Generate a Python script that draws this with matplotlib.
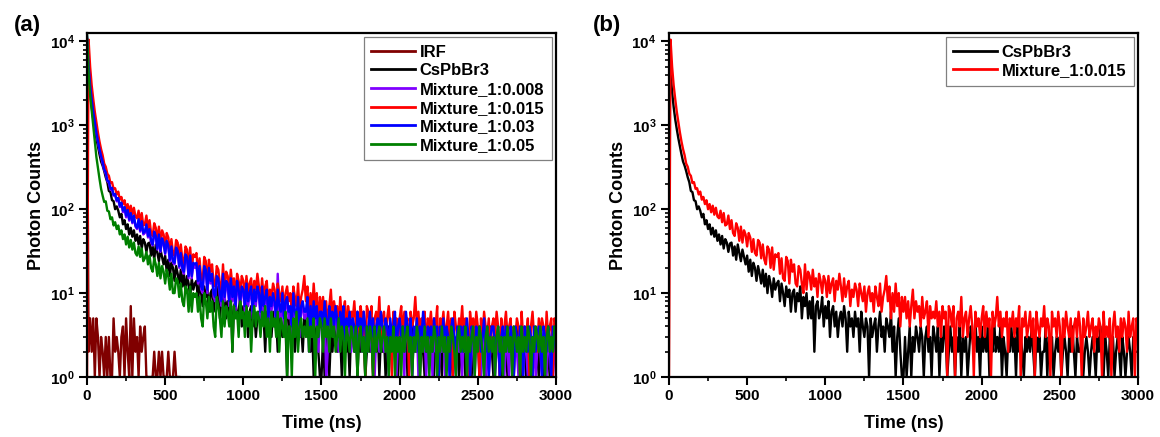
import numpy as np
import matplotlib.pyplot as plt
from matplotlib.ticker import MultipleLocator, LogLocator, NullFormatter, FuncFormatter

# TCSPC channel grid (10 ns per channel), counts
time_ns = np.arange(0, 3001, 10)

irf = [
    10000, 2, 5, 2, 5, 1, 5, 3, 1, 3,
    2, 1, 3, 1, 3, 1, 1, 5, 2, 3,
    2, 1, 3, 4, 1, 5, 2, 1, 7, 1,
    5, 2, 3, 1, 4, 2, 3, 4, 1, 1,
    1, 1, 1, 2, 1, 1, 2, 1, 2, 1,
    1, 1, 2, 1, 1, 1, 2, 1, 1, 1,
]

cspbbr3 = [
    9500, 4300, 2500, 1650, 1180, 900, 700, 560, 450, 370,
    330, 285, 240, 210, 165, 160, 128, 125, 100, 108,
    96, 80, 88, 66, 74, 58, 66, 50, 60, 47,
    56, 42, 50, 38, 48, 34, 44, 40, 31, 39,
    40, 28, 36, 25, 38, 30, 24, 33, 27, 22,
    28, 18, 25, 16, 23, 20, 14, 21, 17, 13,
    19, 12, 17, 10, 16, 13, 9, 15, 11, 13,
    14, 8, 13, 10, 7, 12, 9, 11, 6, 10,
    11, 6, 10, 8, 12, 5, 9, 7, 10, 5,
    8, 5, 9, 2, 7, 8, 5, 6, 9, 4,
    7, 5, 8, 3, 6, 7, 4, 6, 3, 5,
    6, 4, 7, 5, 2, 6, 4, 5, 3, 6,
    4, 5, 2, 6, 4, 3, 5, 4, 1, 5,
    3, 4, 5, 2, 4, 6, 3, 4, 2, 5,
    4, 3, 6, 2, 4, 1, 3, 5, 2, 1,
    1, 3, 1, 2, 4, 1, 3, 2, 4, 3,
    2, 4, 3, 1, 3, 4, 2, 3, 1, 4,
    3, 2, 4, 1, 3, 2, 4, 3, 1, 2,
    4, 2, 3, 1, 3, 2, 4, 1, 3, 2,
    3, 1, 2, 4, 3, 2, 5, 2, 3, 1,
    4, 2, 3, 2, 4, 1, 3, 2, 5, 2,
    3, 2, 4, 1, 3, 2, 1, 3, 2, 4,
    2, 3, 1, 4, 2, 3, 2, 1, 3, 2,
    3, 2, 4, 2, 1, 3, 2, 3, 1, 2,
    2, 4, 1, 3, 2, 3, 1, 2, 3, 2,
    3, 1, 2, 3, 2, 1, 3, 2, 4, 2,
    1, 3, 2, 2, 3, 1, 2, 3, 2, 1,
    2, 3, 2, 1, 3, 2, 4, 2, 1, 3,
    2, 1, 3, 2, 3, 1, 2, 3, 2, 1,
    3, 2, 1, 2, 3, 2, 1, 3, 2, 2,
    2,
]

mix_0008 = [
    11000, 5000, 2900, 2000, 1400, 1040, 790, 630, 505, 420,
    350, 295, 262, 218, 205, 170, 172, 145, 146, 124,
    130, 106, 116, 92, 102, 80, 94, 73, 86, 68,
    80, 62, 58, 73, 54, 69, 50, 52, 63, 46,
    55, 40, 37, 52, 46, 33, 48, 31, 43, 38,
    29, 40, 35, 24, 34, 23, 22, 33, 30, 20,
    28, 19, 17, 27, 25, 15, 26, 15, 22, 20,
    22, 13, 20, 11, 10, 20, 18, 10, 19, 13,
    16, 9, 8, 15, 14, 9, 7, 16, 8, 13,
    12, 7, 14, 8, 11, 6, 13, 10, 7, 11,
    10, 6, 12, 7, 9, 11, 5, 10, 7, 11,
    9, 5, 11, 6, 8, 10, 4, 8, 6, 9,
    7, 4, 17, 6, 5, 9, 4, 7, 8, 5,
    6, 3, 9, 5, 4, 8, 3, 6, 7, 5,
    5, 8, 2, 6, 3, 7, 4, 6, 2, 5,
    5, 3, 7, 1, 2, 6, 4, 5, 3, 6,
    4, 2, 5, 3, 6, 2, 4, 3, 5, 2,
    4, 3, 2, 5, 3, 4, 2, 5, 3, 2,
    3, 5, 2, 4, 1, 3, 4, 2, 5, 3,
    2, 4, 3, 1, 4, 2, 3, 5, 1, 3,
    4, 2, 3, 1, 5, 3, 2, 4, 1, 3,
    2, 4, 1, 3, 2, 5, 3, 1, 3, 2,
    3, 1, 4, 2, 3, 1, 3, 2, 4, 1,
    3, 2, 1, 3, 4, 2, 1, 3, 2, 3,
    1, 3, 2, 4, 2, 1, 3, 2, 1, 3,
    2, 3, 1, 2, 4, 1, 3, 1, 2, 3,
    3, 1, 2, 3, 1, 2, 3, 1, 3, 2,
    1, 3, 2, 1, 3, 2, 1, 3, 2, 1,
    3, 2, 1, 3, 2, 1, 3, 1, 2, 3,
    2, 1, 3, 2, 1, 3, 2, 1, 3, 2,
    1,
]

mix_0015 = [
    1, 10500, 5000, 3000, 2050, 1450, 1080, 820, 640, 520,
    440, 350, 320, 265, 250, 205, 210, 175, 178, 150,
    162, 130, 140, 115, 128, 100, 115, 92, 110, 86,
    104, 82, 78, 96, 70, 90, 64, 66, 84, 58,
    74, 52, 48, 68, 60, 42, 62, 40, 56, 50,
    36, 52, 46, 31, 44, 30, 28, 43, 40, 26,
    38, 25, 22, 36, 33, 20, 35, 19, 29, 27,
    30, 17, 26, 15, 14, 27, 24, 13, 25, 18,
    22, 13, 12, 21, 19, 13, 10, 22, 11, 18,
    16, 11, 19, 12, 15, 9, 17, 14, 10, 16,
    14, 9, 16, 10, 13, 15, 8, 14, 11, 17,
    12, 8, 15, 9, 12, 14, 7, 11, 9, 13,
    11, 7, 13, 10, 8, 12, 6, 10, 12, 8,
    10, 6, 12, 9, 7, 13, 6, 9, 11, 16,
    8, 12, 5, 10, 6, 13, 7, 10, 4, 9,
    6, 9, 5, 8, 4, 7, 11, 5, 8, 6,
    7, 4, 9, 5, 6, 8, 3, 7, 5, 6,
    5, 8, 4, 6, 3, 7, 5, 6, 1, 7,
    6, 4, 7, 1, 5, 6, 4, 9, 3, 5,
    6, 3, 5, 7, 4, 1, 6, 4, 5, 3,
    5, 7, 3, 6, 4, 5, 1, 6, 4, 5,
    9, 4, 6, 3, 5, 4, 6, 2, 5, 4,
    6, 3, 5, 4, 7, 1, 5, 4, 6, 3,
    4, 6, 3, 5, 1, 6, 4, 3, 5, 4,
    7, 3, 5, 4, 1, 6, 4, 5, 3, 6,
    4, 1, 5, 3, 6, 4, 3, 5, 2, 4,
    5, 3, 6, 4, 1, 5, 3, 4, 6, 3,
    4, 5, 2, 4, 3, 5, 4, 1, 6, 3,
    4, 3, 5, 1, 4, 6, 3, 4, 2, 5,
    3, 5, 4, 2, 6, 3, 4, 5, 1, 5,
    4,
]

mix_003 = [
    11500, 5200, 3000, 2050, 1450, 1080, 820, 650, 520, 430,
    370, 300, 275, 220, 215, 175, 180, 148, 152, 128,
    136, 110, 120, 96, 106, 84, 98, 76, 90, 70,
    84, 64, 60, 76, 56, 72, 52, 54, 66, 48,
    58, 42, 38, 54, 48, 34, 50, 32, 45, 40,
    30, 42, 37, 25, 36, 24, 23, 35, 32, 21,
    30, 20, 18, 29, 27, 16, 28, 16, 23, 22,
    23, 14, 21, 12, 11, 21, 19, 11, 20, 14,
    17, 10, 9, 16, 15, 10, 8, 17, 9, 14,
    13, 8, 15, 9, 12, 7, 14, 11, 8, 12,
    11, 7, 13, 8, 10, 12, 6, 11, 8, 12,
    10, 6, 12, 7, 9, 11, 5, 9, 7, 10,
    8, 5, 11, 7, 6, 10, 5, 8, 9, 6,
    7, 4, 10, 6, 5, 9, 4, 7, 8, 6,
    6, 9, 3, 7, 4, 8, 5, 7, 3, 6,
    6, 4, 8, 5, 3, 7, 5, 6, 4, 7,
    5, 3, 6, 4, 7, 2, 5, 4, 6, 3,
    5, 4, 2, 6, 4, 5, 3, 6, 4, 2,
    4, 6, 3, 5, 2, 4, 5, 3, 6, 4,
    3, 5, 4, 2, 5, 3, 4, 6, 2, 4,
    5, 3, 4, 2, 6, 4, 3, 5, 1, 4,
    3, 5, 2, 4, 3, 6, 4, 2, 4, 3,
    4, 2, 5, 3, 4, 1, 4, 3, 5, 2,
    4, 3, 1, 4, 5, 3, 2, 4, 3, 4,
    2, 4, 3, 5, 3, 1, 4, 3, 2, 4,
    3, 4, 2, 3, 5, 2, 4, 1, 3, 4,
    4, 2, 3, 4, 1, 3, 4, 2, 4, 3,
    2, 4, 3, 1, 4, 3, 2, 4, 3, 1,
    4, 3, 2, 4, 3, 1, 4, 2, 3, 4,
    3, 1, 4, 3, 2, 4, 3, 1, 4, 3,
    2,
]

mix_005 = [
    12500, 4200, 2300, 1500, 950, 620, 420, 310, 230, 175,
    145, 122, 124, 96, 94, 76, 80, 64, 70, 58,
    64, 50, 56, 44, 50, 38, 47, 35, 43, 33,
    40, 30, 28, 36, 27, 34, 24, 26, 31, 22,
    28, 20, 18, 26, 22, 16, 23, 15, 21, 18,
    13, 19, 16, 11, 17, 10, 10, 15, 14, 9,
    13, 8, 7, 12, 11, 6, 12, 6, 10, 9,
    10, 6, 9, 5, 4, 10, 8, 5, 9, 6,
    8, 4, 3, 9, 7, 5, 3, 8, 4, 7,
    6, 4, 8, 2, 7, 5, 6, 3, 8, 5,
    6, 3, 7, 4, 6, 2, 5, 7, 4, 6,
    5, 3, 6, 4, 7, 3, 5, 2, 6, 4,
    5, 3, 6, 2, 5, 4, 3, 6, 1, 4,
    4, 1, 5, 3, 6, 2, 4, 5, 3, 4,
    3, 5, 2, 4, 3, 5, 1, 4, 3, 5,
    4, 2, 5, 3, 4, 2, 5, 3, 4, 2,
    3, 5, 2, 4, 3, 1, 4, 3, 2, 4,
    3, 2, 4, 1, 3, 4, 2, 3, 1, 4,
    2, 4, 3, 1, 4, 2, 3, 4, 2, 3,
    4, 2, 3, 1, 3, 2, 4, 1, 3, 2,
    3, 1, 4, 2, 3, 4, 2, 3, 1, 3,
    2, 4, 3, 1, 3, 2, 4, 2, 3, 1,
    3, 2, 4, 3, 1, 3, 2, 4, 2, 3,
    1, 3, 2, 4, 3, 2, 1, 3, 4, 2,
    3, 2, 4, 1, 3, 2, 3, 4, 1, 3,
    2, 4, 3, 2, 1, 3, 4, 2, 3, 2,
    3, 1, 3, 4, 2, 3, 1, 3, 2, 4,
    2, 3, 1, 4, 3, 2, 3, 1, 4, 2,
    3, 2, 4, 3, 1, 3, 2, 4, 3, 2,
    4, 2, 3, 1, 3, 4, 2, 3, 2, 4,
    3,
]

labels_a = ['IRF', 'CsPbBr3', 'Mixture_1:0.008', 'Mixture_1:0.015',
            'Mixture_1:0.03', 'Mixture_1:0.05']
series_a = [irf, cspbbr3, mix_0008, mix_0015, mix_003, mix_005]
colors_a = ['#800000', 'black', '#8000FF', '#FF0000', '#0000FF', '#008000']

labels_b = ['CsPbBr3', 'Mixture_1:0.015']
series_b = [cspbbr3, mix_0015]
colors_b = ['black', '#FF0000']


def style_axis(ax):
    ax.set_yscale('log')
    ax.set_xlim(0, 3000)
    ax.set_ylim(1, 12600)
    for side in ax.spines:
        ax.spines[side].set_linewidth(1.6)
    ax.xaxis.set_major_locator(MultipleLocator(500))
    ax.xaxis.set_minor_locator(MultipleLocator(250))
    ax.yaxis.set_major_locator(LogLocator(base=10, numticks=10))
    ax.yaxis.set_minor_locator(LogLocator(base=10, subs=np.arange(2, 10), numticks=10))
    ax.yaxis.set_minor_formatter(NullFormatter())
    ax.yaxis.set_major_formatter(FuncFormatter(
        lambda v, _: r'$\mathbf{10^{%d}}$' % round(np.log10(v))))
    ax.tick_params(which='major', direction='out', length=5.5, width=1.5,
                   labelsize=11, pad=3.5)
    ax.tick_params(which='minor', direction='out', length=3, width=1.2)
    ax.set_xlabel('Time (ns)', fontsize=13, fontweight='bold', labelpad=8)
    ax.set_ylabel('Photon Counts', fontsize=13, fontweight='bold', labelpad=3)


def plot_panel(ax, series, labels, colors):
    for y, lab, c in zip(series, labels, colors):
        ax.plot(time_ns[:len(y)], y, color=c, lw=1.7, label=lab)
    style_axis(ax)
    leg = ax.legend(loc='upper right', fancybox=False, edgecolor='#808080',
                    framealpha=1, borderaxespad=0.25, labelspacing=0.22,
                    handlelength=2.6, handletextpad=0.3, borderpad=0.45,
                    prop={'size': 12, 'weight': 'bold'})
    leg.get_frame().set_linewidth(0.9)
    for line in leg.get_lines():
        line.set_linewidth(2.0)


if __name__ == '__main__':
    plt.rcParams['font.family'] = ['Liberation Sans', 'DejaVu Sans']
    plt.rcParams['font.weight'] = 'bold'
    plt.rcParams['mathtext.fontset'] = 'custom'
    plt.rcParams['mathtext.rm'] = 'Liberation Sans:bold'
    plt.rcParams['mathtext.bf'] = 'Liberation Sans:bold'

    fig = plt.figure(figsize=(11.6, 4.37), dpi=100)
    ax_a = fig.add_axes([0.075, 0.1373, 0.4043, 0.7872])
    ax_b = fig.add_axes([0.5767, 0.1373, 0.4043, 0.7872])

    plot_panel(ax_a, series_a, labels_a, colors_a)
    plot_panel(ax_b, series_b, labels_b, colors_b)

    fig.text(27 / 1160, 1 - 26 / 437, '(a)', fontsize=16, fontweight='bold',
             ha='center', va='center')
    fig.text(607 / 1160, 1 - 26 / 437, '(b)', fontsize=16, fontweight='bold',
             ha='center', va='center')

    fig.savefig('out.png', dpi=100)
